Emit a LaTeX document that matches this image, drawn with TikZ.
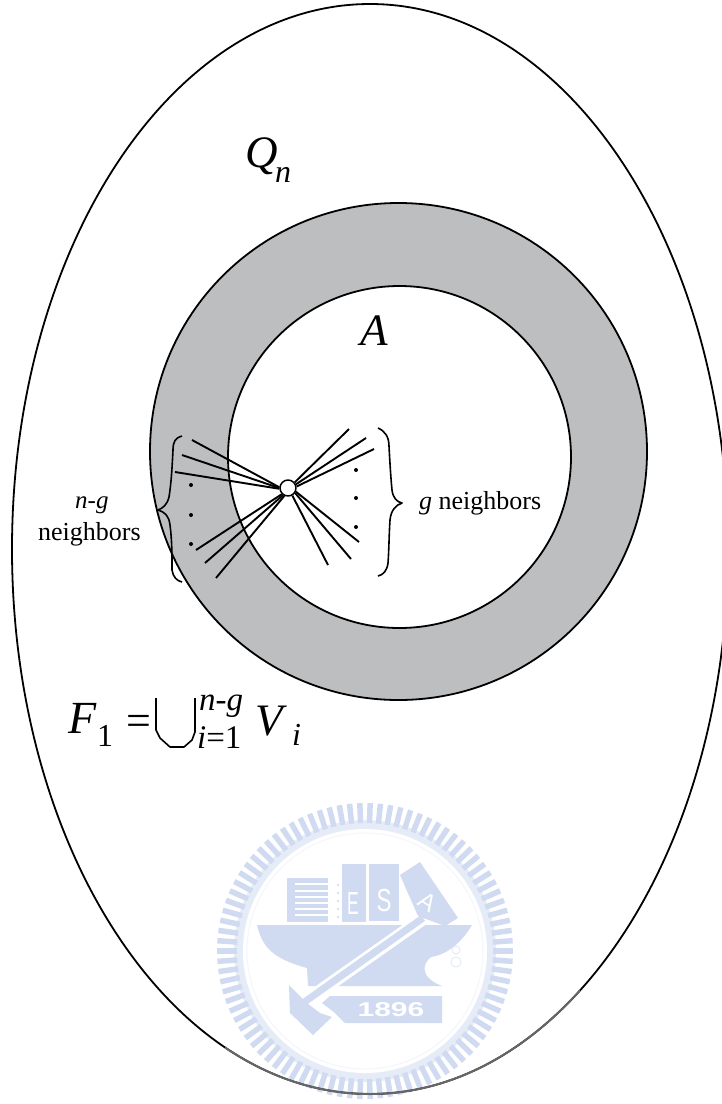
\documentclass[tikz,border=0pt]{standalone}
\usepackage{fontspec}
\setmainfont{Liberation Serif}
\setsansfont{Liberation Sans}
\usetikzlibrary{arrows.meta}
\definecolor{obroc}{HTML}{BCBEC0}
\definecolor{znak}{HTML}{D0DAF0}
\definecolor{znaksvetel}{HTML}{E6ECF7}
\newcommand{\velikost}[1]{\fontsize{#1}{#1}\selectfont}
\tikzset{
	diagram/.style={x=1pt, y=-1pt, line join=round},
	rob/.style={draw=black, line width=1.8pt},
	zarek/.style={draw=black, line width=1.9pt},
	vozel/.style={draw=black, circle, fill=white, line width=1.5pt, inner sep=0pt, minimum size=16pt},
	zaviti/.style={draw=black, line width=1.6pt},
	pika/.style={fill=black},
	besedilo/.style={inner sep=0pt, anchor=base west, font=\velikost{26}},
	veliko/.style={inner sep=0pt, anchor=base west, font=\velikost{45}\itshape},
	indeks/.style={inner sep=0pt, anchor=base west, font=\velikost{33}},
	znakblok/.style={fill=znak, draw=none},
	znakcrka/.style={inner sep=0pt, text=white, font=\sffamily},
}
\begin{document}
\begin{tikzpicture}[diagram]
\useasboundingbox (0,0) rectangle (722,1104);

% ---------- vodni znak ----------
\fill[znaksvetel] (365,951) circle (131);
\foreach \kot in {0,4,...,356} {
	\draw[znak, line width=5.5pt] ({365+128*cos(\kot)},{951+128*sin(\kot)}) -- ({365+148*cos(\kot)},{951+148*sin(\kot)});
}
\fill[white] (365,951) circle (122);
\draw[znaksvetel!50!white, line width=1pt] (365,951) circle (118);

\fill[znakblok] (287,878) rectangle (328,922);
\foreach \y in {884,891,897,903,909,915} {
	\draw[white, line width=2.5pt] (295,\y) -- (329,\y);
}
\fill[znakblok] (342,864) rectangle (366,922);
\fill[znakblok] (369,864) rectangle (399,921);
\fill[znakblok] (400,875) -- (420,862) -- (458,918) -- (445,926) -- (418,916) -- cycle;
\foreach \y in {885,893,901,909,917} {
	\fill[znak] (338,\y) circle (1.2);
}
\node[znakcrka, font=\sffamily\velikost{32}, xscale=.55] (crkaE) at (353,903) {E};
\node[znakcrka, font=\sffamily\velikost{32}, xscale=.7] (crkaS) at (384,900) {S};
\node[znakcrka, font=\sffamily\velikost{24}, rotate=-33] (crkaA) at (428,902) {A};

\fill[znakblok] (257,925) -- (472,925) .. controls (460,945) and (445,955) .. (431,957)
	.. controls (421,965) and (421,978) .. (442,986) -- (308,986) -- (307,968)
	.. controls (270,958) and (262,945) .. (257,925) -- cycle;
\draw[white, line width=13pt] (421,920) -- (303,1003);
\draw[znak, line width=7pt] (423,918) -- (303,1003);
\fill[znakblok] (289,985) -- (307,1003) -- (320,1013) -- (332,1017) -- (313,1035) -- (290,1013) -- cycle;
\fill[znakblok] (330,996) -- (442,996) -- (442,1023) -- (345,1023) -- (335,1013) -- (322,1003) -- cycle;
\node[znakcrka, font=\sffamily\bfseries\velikost{20}, xscale=1.5] (leto) at (391,1010) {1896};
\draw[znaksvetel, line width=1pt] (456,950) circle (4);
\draw[znaksvetel, line width=1pt] (456,962) circle (5);

% ---------- obroc ----------
\fill[obroc, even odd rule] (398.5,451.5) ellipse [x radius=248.5, y radius=248.5]
	(399.5,457) ellipse [x radius=171.5, y radius=171];
\draw[rob] (398.5,451.5) ellipse [x radius=248.5, y radius=248.5];
\draw[rob] (399.5,457) ellipse [x radius=171.5, y radius=171];

% ---------- zunanja krivulja ----------
\draw[rob] (370,549) ellipse [x radius=358, y radius=545];
\begin{scope}
	\clip (225,990) rectangle (580,1104);
	\draw[black!60, line width=2pt] (370,549) ellipse [x radius=358, y radius=545];
\end{scope}

% ---------- zvezda ----------
\node[vozel] (sredisce) at (288,488) {};
\foreach \i/\x/\y/\sidro in {1/192/440/175, 2/182/455/180, 3/175/472/185,
	4/196/550/225, 5/205/563/235, 6/216/578/245,
	7/349/429/40, 8/366/438/25, 9/374/449/10,
	10/359/542/-25, 11/351/559/-35, 12/328/565/-60} {
	\coordinate (konec\i) at (\x,\y);
	\draw[zarek] (sredisce.\sidro) -- (konec\i);
}
\foreach \x/\y in {191/485, 191/515, 191/544, 356/470, 356/498, 356/527} {
	\fill[pika] (\x,\y) circle (2);
}

% ---------- oklepaja ----------
\draw[zaviti] (182,436) .. controls (175,438) and (173,442) .. (173,450)
	.. controls (172,470) and (171,485) .. (169,497)
	.. controls (167,505) and (163,508) .. (158,510)
	.. controls (165,512) and (169,516) .. (170,525)
	.. controls (172,540) and (172,555) .. (172,570)
	.. controls (173,577) and (177,581) .. (182,582);
\draw[zaviti] (378,428) .. controls (385,431) and (389,437) .. (389,446)
	.. controls (390,465) and (391,480) .. (392,490)
	.. controls (393,498) and (397,502) .. (402,503)
	.. controls (396,505) and (391,510) .. (390,520)
	.. controls (389,535) and (389,550) .. (388,563)
	.. controls (387,571) and (383,575) .. (378,576);

% ---------- oznake ----------
\node[veliko] (oznakaQ) at (245,167) {Q};
\node[indeks, font=\velikost{32}\itshape] (oznakaN) at (275,182) {n};
\node[veliko] (oznakaA) at (360,345) {A};
\node[besedilo, font=\velikost{25}\itshape] (oznakaNG) at (75,508) {n-g};
\node[besedilo] (levi) at (38,540) {neighbors};
\node[besedilo] (desni) at (419,509) {\textit{g} neighbors};

\node[veliko, font=\velikost{46}\itshape] (oznakaF) at (68,733) {F};
\node[indeks, font=\velikost{32}] (oznakaEna) at (97,746) {1};
\node[veliko, font=\velikost{44}] (enako) at (126,735) {=};
\draw[line width=1.6pt] (156,698) -- (156,730) -- (160,738) -- (170,747) -- (184,747) -- (192,740) -- (195,732) -- (195,698);
\node[indeks] (zgoraj) at (199,710) {\textit{n-g}};
\node[indeks] (spodaj) at (197,748) {\textit{i}=1};
\node[veliko] (oznakaV) at (255,735) {V};
\node[indeks, font=\velikost{32}\itshape] (oznakaI) at (292,745) {i};
\end{tikzpicture}
\end{document}
